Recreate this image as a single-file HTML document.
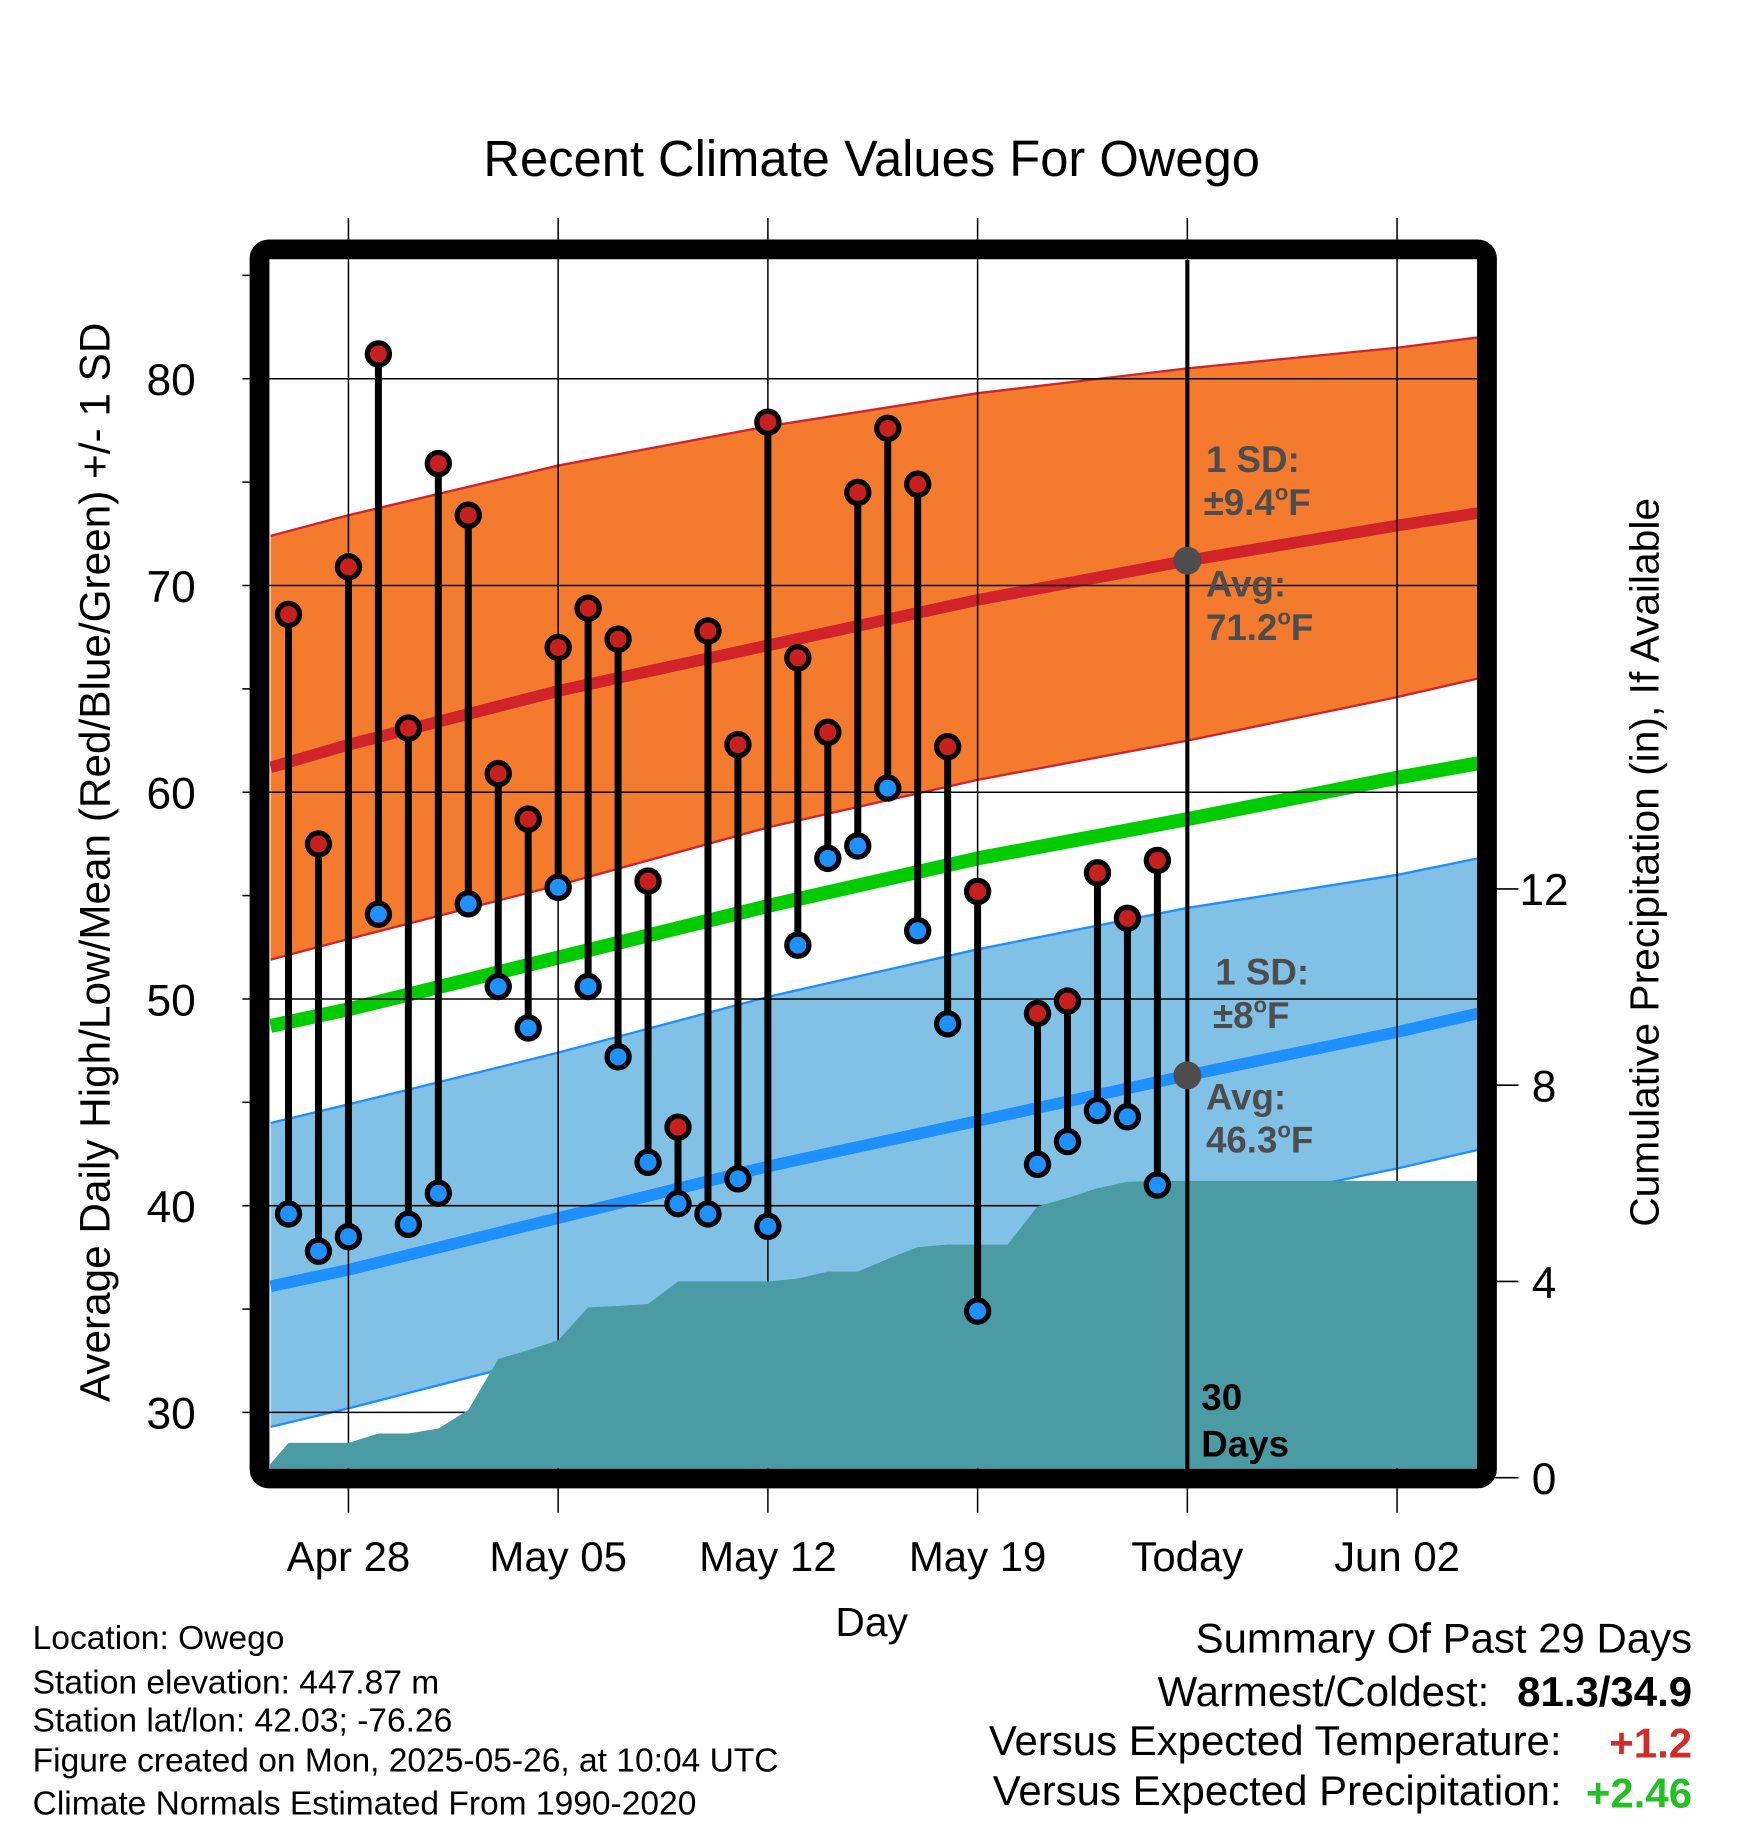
<!DOCTYPE html>
<html><head><meta charset="utf-8"><style>
html,body{margin:0;padding:0;background:#fff}
svg{display:block}
text{font-family:"Liberation Sans",sans-serif}
</style></head><body>
<svg id="chart" width="1748" height="1828" viewBox="0 0 1500 1568.6" preserveAspectRatio="none" xmlns="http://www.w3.org/2000/svg">
<defs><clipPath id="pc"><rect x="231.7" y="223" width="1036.8" height="1037"/></clipPath></defs>
<text x="748" y="151" font-size="43.5" text-anchor="middle">Recent Climate Values For Owego</text>
<g id="bands" clip-path="url(#pc)"></g>
<g id="grid"></g>
<g id="marks"></g>
<g id="labels"></g>
<rect x="222.7" y="214" width="1053.3" height="1054.7" rx="8" fill="none" stroke="#000" stroke-width="17"/>
<text transform="translate(94,740) rotate(-90)" font-size="36.3" text-anchor="middle">Average Daily High/Low/Mean (Red/Blue/Green) +/- 1 SD</text>
<text transform="translate(1423,740) rotate(-90)" font-size="35" text-anchor="middle">Cumulative Precipitation (in), If Available</text>
<text x="748" y="1404" font-size="35" text-anchor="middle">Day</text>
<g font-size="28.8">
<text x="28" y="1415">Location: Owego</text>
<text x="28" y="1453">Station elevation: 447.87 m</text>
<text x="28" y="1486">Station lat/lon: 42.03; -76.26</text>
<text x="28" y="1520">Figure created on Mon, 2025-05-26, at 10:04 UTC</text>
<text x="28" y="1557">Climate Normals Estimated From 1990-2020</text>
</g>
<g font-size="36">
<text x="1452" y="1418" text-anchor="end">Summary Of Past 29 Days</text>
<text x="1278" y="1464" text-anchor="end">Warmest/Coldest:</text>
<text x="1452" y="1464" text-anchor="end" font-weight="bold">81.3/34.9</text>
<text x="1340" y="1506" text-anchor="end">Versus Expected Temperature:</text>
<text x="1452" y="1508" text-anchor="end" font-weight="bold" fill="#d42a2a">+1.2</text>
<text x="1340" y="1549" text-anchor="end">Versus Expected Precipitation:</text>
<text x="1452" y="1551" text-anchor="end" font-weight="bold" fill="#22c022">+2.46</text>
</g>
</svg>
<script>
// data
const knotDays = [-2.6, 0, 7, 14, 21, 28, 35, 37.7]; // days since Apr 28
const hiUpper = [72.4, 73.4, 75.8, 77.7, 79.3, 80.5, 81.5, 82.0];
const hiAvg   = [61.2, 62.3, 64.9, 67.1, 69.3, 71.2, 72.9, 73.5];
const hiLower = [51.9, 52.9, 55.5, 58.3, 60.6, 62.5, 64.6, 65.5];
const meanAvg = [48.7, 49.5, 52.0, 54.5, 56.8, 58.7, 60.7, 61.4];
const loUpper = [44.0, 44.9, 47.4, 50.1, 52.4, 54.4, 56.0, 56.8];
const loAvg   = [36.1, 36.9, 39.4, 41.9, 44.1, 46.3, 48.4, 49.3];
const loLower = [29.3, 30.2, 32.8, 35.2, 37.4, 39.7, 41.8, 42.7];
const obsDays = [-2,-1,0,1,2,3,4,5,6,7,8,9,10,11,12,13,14,15,16,17,18,19,20,21,23,24,25,26,27];
const highs = [68.6,57.5,70.9,81.2,63.1,75.9,73.4,60.9,58.7,67.0,68.9,67.4,55.7,43.8,67.8,62.3,77.9,66.5,62.9,74.5,77.6,74.9,62.2,55.2,49.3,49.9,56.1,53.9,56.7];
const lows  = [39.6,37.8,38.5,54.1,39.1,40.6,54.6,50.6,48.6,55.4,50.6,47.2,42.1,40.1,39.6,41.3,39.0,52.6,56.8,57.4,60.2,53.3,48.8,34.9,42.0,43.1,44.6,44.3,41.0];
const precipStartDay = -3;
const precip = [0,0.71,0.71,0.71,0.9,0.9,1.0,1.38,2.42,2.6,2.8,3.47,3.5,3.54,4.0,4.0,4.0,4.0,4.06,4.2,4.2,4.46,4.7,4.75,4.75,4.75,5.53,5.7,5.9,6.03,6.05];
const tempTicks = [30,40,50,60,70,80];
const precipTicks = [0,4,8,12];
const xTickDays = [0,7,14,21,28,35];
const xTickLabels = ["Apr 28","May 05","May 12","May 19","Today","Jun 02"];
const todayDay = 28;
const todayHiAvg = 71.2, todayLoAvg = 46.3;

const NS="http://www.w3.org/2000/svg";
const X = d => 299 + d*25.71;
const Y = t => 325 + (80 - t)*17.74;
const P = p => 1268 - p*42.1;
function mk(tag, attrs, parent){const e=document.createElementNS(NS,tag);for(const k in attrs)e.setAttribute(k,attrs[k]);parent.appendChild(e);return e;}
const bands=document.getElementById('bands'), grid=document.getElementById('grid'), marks=document.getElementById('marks'), labels=document.getElementById('labels');
function pts(arr){return knotDays.map((d,i)=>X(d).toFixed(1)+','+Y(arr[i]).toFixed(1));}
function band(up,lo,fill,edge,name){
  const a=pts(up), b=pts(lo).reverse();
  let e=mk('polygon',{points:a.concat(b).join(' '),fill:fill},bands);
  
  
  e=mk('polyline',{points:a.join(' '),fill:'none',stroke:edge,'stroke-width':2},bands);
  
  
  e=mk('polyline',{points:pts(lo).join(' '),fill:'none',stroke:edge,'stroke-width':2},bands);
  
  
}
function line(arr,col,w,name){
  const e=mk('polyline',{points:pts(arr).join(' '),fill:'none',stroke:col,'stroke-width':w,'stroke-linejoin':'round'},bands);
  
  
}
band(hiUpper,hiLower,'#f47a2e','#d0242a','high-sd-band');
band(loUpper,loLower,'#82c1e6','#1e8fff','low-sd-band');
line(hiAvg,'#d0242a',10,'avg-high-line');
line(meanAvg,'#00cc00',12,'avg-mean-line');
line(loAvg,'#1e8fff',10,'avg-low-line');
// grid
tempTicks.forEach(t=>{
  const e=mk('line',{x1:208,x2:1268,y1:Y(t),y2:Y(t),stroke:'#000','stroke-width':1.3},grid);
  
  
  const tx=mk('text',{x:168,y:Y(t)+14,'font-size':38,'text-anchor':'end'},labels);
  tx.textContent=t;
  
  
});
for(let t=30;t<=85;t+=5){ if(t%10) { const e=mk('line',{x1:208,x2:218,y1:Y(t),y2:Y(t),stroke:'#000','stroke-width':1.3},grid);
  
   } }
xTickDays.forEach((d,i)=>{
  const e=mk('line',{x1:X(d),x2:X(d),y1:187,y2:1298,stroke:'#000','stroke-width':1.3},grid);
  
  
  const tx=mk('text',{x:X(d),y:1348,'font-size':36,'text-anchor':'middle'},labels);
  tx.textContent=xTickLabels[i];
  
  
});
precipTicks.forEach(p=>{
  const e=mk('line',{x1:1276,x2:1303,y1:P(p),y2:P(p),stroke:'#000','stroke-width':1.3},grid);
  
  
  const tx=mk('text',{x:1325,y:P(p)+14,'font-size':38,'text-anchor':'middle'},labels);
  tx.textContent=p;
  
  
});
// precipitation area (over grid)
{
  const ptsP=precip.map((p,i)=>X(precipStartDay+i).toFixed(1)+','+P(p).toFixed(1));
  const last=precip[precip.length-1];
  ptsP.push(X(40)+','+P(last));
  ptsP.push(X(40)+','+P(-1));ptsP.push(X(precipStartDay)+','+P(-1));
  const g=mk('g',{'clip-path':'url(#pc)'},marks);
  const e=mk('polygon',{points:ptsP.join(' '),fill:'#4a9ba4'},g);
  
  
}
// today line
{
  const e=mk('line',{x1:X(todayDay),x2:X(todayDay),y1:223,y2:1262,stroke:'#000','stroke-width':3.5},marks);
  
  
  [todayHiAvg,todayLoAvg].forEach(v=>{
    const c=mk('circle',{cx:X(todayDay),cy:Y(v),r:12,fill:'#4d4d4d'},marks);
    
    
  });
}
// stems and dots
obsDays.forEach((d,i)=>{
  const s=mk('line',{x1:X(d),x2:X(d),y1:Y(highs[i]),y2:Y(lows[i]),stroke:'#000','stroke-width':6},marks);
  
  
});
obsDays.forEach((d,i)=>{
  const h=mk('circle',{cx:X(d),cy:Y(highs[i]),r:9.5,fill:'#c8201e',stroke:'#000','stroke-width':4.5},marks);
  
  
  const l=mk('circle',{cx:X(d),cy:Y(lows[i]),r:9.5,fill:'#1e90ff',stroke:'#000','stroke-width':4.5},marks);
  
  
});
// annotations
function ann(x,y,t,name,col){
  const e=mk('text',{x:x,y:y,'font-size':31.5,'font-weight':'bold',fill:col||'#4d4d4d'},labels);
  e.innerHTML=t;
  
  
}
const ax=X(todayDay);
ann(ax+16,405,'1 SD:','high-sd-label');
ann(ax+14,442,'±9.4<tspan font-size="19" dy="-13">o</tspan><tspan dy="13">F</tspan>','high-sd-value');
ann(ax+16,512,'Avg:','high-avg-label');
ann(ax+16,549,'71.2<tspan font-size="19" dy="-13">o</tspan><tspan dy="13">F</tspan>','high-avg-value');
ann(ax+24,845,'1 SD:','low-sd-label');
ann(ax+22,882,'±8<tspan font-size="19" dy="-13">o</tspan><tspan dy="13">F</tspan>','low-sd-value');
ann(ax+16,952,'Avg:','low-avg-label');
ann(ax+16,989,'46.3<tspan font-size="19" dy="-13">o</tspan><tspan dy="13">F</tspan>','low-avg-value');
ann(ax+12,1210,'30','days-count-label','#000');
ann(ax+12,1250,'Days','days-label','#000');
</script>
</body></html>
